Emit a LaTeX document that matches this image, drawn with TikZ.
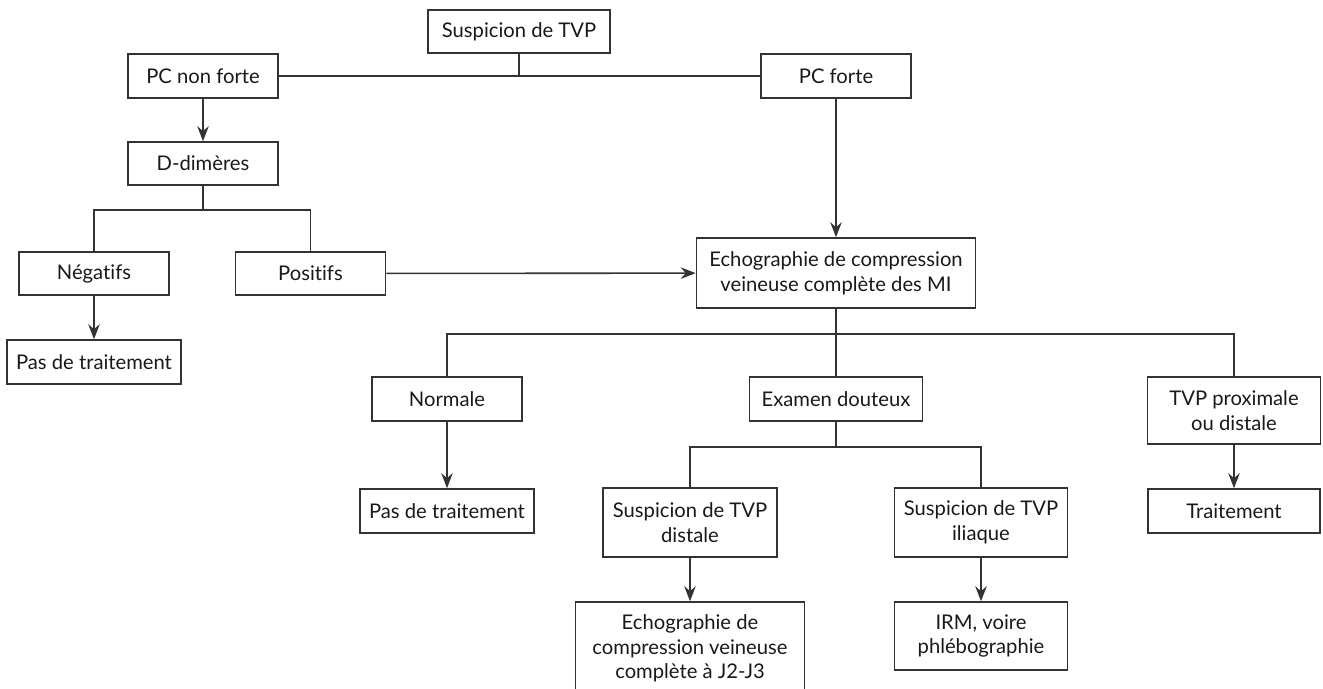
\documentclass[tikz,border=0pt]{standalone}
\usepackage{fontspec}
\setmainfont{Lato}[Ligatures={NoCommon}]
\usepackage{tikz}
\usetikzlibrary{arrows.meta}

\begin{document}
\begin{tikzpicture}[box/.style={draw=black!80, line width=.9pt, inner
    sep=0pt, align=center, text=black!90, minimum width=3cm, minimum
    height=.88cm, font=\fontsize{11.5}{14}\selectfont}, link/.style={draw=black!80,
    line width=.9pt}, >={Stealth[length=3mm,width=2.3mm,inset=1mm]}]
    \useasboundingbox (0,0) rectangle (26.46,-13.78);
    \node [box, minimum width=3.64cm, minimum height=.86cm] (susp) at
    (10.38,-.63) {Suspicion de TVP}; \node [box] (pcnf) at (4.06,-1.52)
    {PC non forte}; \node [box] (pcf) at (16.72,-1.52) {PC forte};
    \node [box, minimum height=.86cm] (ddim) at (4.06,-3.27)
    {D-dimères}; \node [box, minimum height=.86cm] (neg) at
    (1.88,-5.47) {Négatifs}; \node [box, minimum height=.86cm] (pos) at
    (6.21,-5.47) {Positifs}; \node [box, minimum width=3.48cm] (pdt1)
    at (1.88,-7.24) {Pas de traitement};
    \node [box, minimum width=5.58cm, minimum height=1.4cm] (echo) at
    (16.72,-5.46) {Echographie de compression\\veineuse complète des MI};
    \node [box] (norm) at (8.94,-7.98) {Normale}; \node [box, minimum
    width=3.46cm] (exam) at (16.72,-7.98) {Examen douteux}; \node [box,
    minimum width=3.46cm, minimum height=1.34cm] (prox) at
    (24.68,-8.21) {TVP proximale\\ou distale};
    \node [box, minimum width=3.48cm] (pdt2) at (8.94,-10.22) {Pas de
    traitement}; \node [box, minimum width=3.48cm, minimum
    height=1.38cm] (dist) at (13.8,-10.45) {Suspicion de TVP\\distale};
    \node [box, minimum width=3.46cm, minimum height=1.38cm] (ilia) at
    (19.62,-10.45) {Suspicion de TVP\\iliaque}; \node [box, minimum
    width=3.44cm] (trait) at (24.68,-10.22) {Traitement};
    \node [box, minimum width=4.58cm, minimum height=1.86cm] (j2j3) at
    (13.8,-12.97) {Echographie de\\compression veineuse\\complète à
    J2-J3}; \node [box, minimum width=3.46cm, minimum height=1.36cm]
    (irm) at (19.62,-12.72) {IRM, voire\\phlébographie};
    \coordinate (top) at (10.38,-1.52); \coordinate (dj) at
    (4.06,-4.2); \coordinate (ej) at (16.72,-6.68); \coordinate (xj) at
    (16.72,-8.94);
    \draw [link] (pcnf) -- (pcf); \draw [link] (susp) -- (top); \draw
    [link,->] (pcnf) -- (ddim); \draw [link,->] (pcf) -- (echo);
    \draw [link] (ddim) -- (dj); \draw [link] (neg.north) |- (dj) -|
    (pos.north); \draw [link,->] (neg) -- (pdt1); \draw [link,->] (pos)
    -- (echo);
    \draw [link] (echo) -- (ej); \draw [link] (norm.north) |- (ej) -|
    (prox.north); \draw [link] (ej) -- (exam); \draw [link,->] (norm)
    -- (pdt2); \draw [link,->] (prox) -- (trait);
    \draw [link] (exam) -- (xj); \draw [link] (dist.north) |- (xj) -|
    (ilia.north); \draw [link,->] (dist) -- (j2j3); \draw [link,->]
    (ilia) -- (irm);
  \end{tikzpicture}
\end{document}
